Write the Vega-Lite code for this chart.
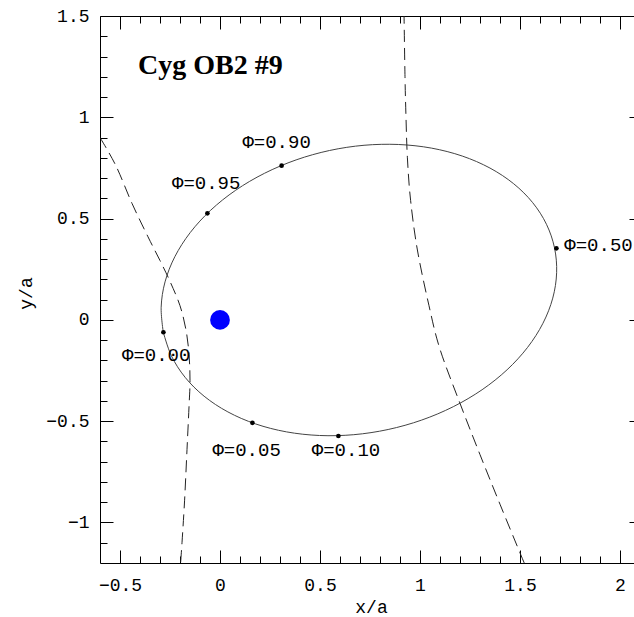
{
  "$schema": "https://vega.github.io/schema/vega-lite/v6.json",
  "width": 534,
  "height": 547,
  "autosize": {"type": "none"},
  "padding": {"left": 100, "top": 16, "right": 0, "bottom": 54},
  "background": "white",
  "config": {
    "view": {"stroke": null},
    "axis": {
      "grid": false,
      "domainColor": "#000",
      "domainWidth": 1,
      "tickColor": "#000",
      "tickWidth": 1,
      "labelFont": "Liberation Mono",
      "labelFontSize": 18,
      "labelColor": "#000",
      "titleFont": "Liberation Mono",
      "titleFontSize": 18,
      "titleFontWeight": "normal",
      "titleColor": "#000"
    }
  },
  "datasets": {
    "orbit": [
      {"i": 0, "x": -0.2837, "y": -0.0603},
      {"i": 1, "x": -0.2434, "y": -0.1766},
      {"i": 2, "x": -0.1746, "y": -0.2833},
      {"i": 3, "x": -0.0794, "y": -0.3767},
      {"i": 4, "x": 0.0393, "y": -0.4542},
      {"i": 5, "x": 0.1778, "y": -0.5135},
      {"i": 6, "x": 0.3322, "y": -0.5527},
      {"i": 7, "x": 0.4975, "y": -0.5706},
      {"i": 8, "x": 0.6688, "y": -0.5667},
      {"i": 9, "x": 0.8409, "y": -0.541},
      {"i": 10, "x": 1.0084, "y": -0.4945},
      {"i": 11, "x": 1.1665, "y": -0.4284},
      {"i": 12, "x": 1.3104, "y": -0.3448},
      {"i": 13, "x": 1.4354, "y": -0.2462},
      {"i": 14, "x": 1.5379, "y": -0.1357},
      {"i": 15, "x": 1.6148, "y": -0.0166},
      {"i": 16, "x": 1.6638, "y": 0.1075},
      {"i": 17, "x": 1.6832, "y": 0.2329},
      {"i": 18, "x": 1.6726, "y": 0.3555},
      {"i": 19, "x": 1.6324, "y": 0.4719},
      {"i": 20, "x": 1.5636, "y": 0.5785},
      {"i": 21, "x": 1.4684, "y": 0.672},
      {"i": 22, "x": 1.3497, "y": 0.7495},
      {"i": 23, "x": 1.2112, "y": 0.8088},
      {"i": 24, "x": 1.0568, "y": 0.848},
      {"i": 25, "x": 0.8915, "y": 0.8658},
      {"i": 26, "x": 0.7202, "y": 0.8619},
      {"i": 27, "x": 0.5481, "y": 0.8362},
      {"i": 28, "x": 0.3806, "y": 0.7897},
      {"i": 29, "x": 0.2225, "y": 0.7236},
      {"i": 30, "x": 0.0786, "y": 0.6401},
      {"i": 31, "x": -0.0464, "y": 0.5415},
      {"i": 32, "x": -0.1489, "y": 0.431},
      {"i": 33, "x": -0.2258, "y": 0.3119},
      {"i": 34, "x": -0.2748, "y": 0.1877},
      {"i": 35, "x": -0.2942, "y": 0.0624},
      {"i": 36, "x": -0.2837, "y": -0.0603}
    ],
    "cones": [
      {"curve": "left", "i": 0, "x": -0.6, "y": 0.9},
      {"curve": "left", "i": 1, "x": -0.52, "y": 0.76},
      {"curve": "left", "i": 2, "x": -0.44, "y": 0.575},
      {"curve": "left", "i": 3, "x": -0.36, "y": 0.41},
      {"curve": "left", "i": 4, "x": -0.3, "y": 0.293},
      {"curve": "left", "i": 5, "x": -0.25, "y": 0.19},
      {"curve": "left", "i": 6, "x": -0.2, "y": 0.07},
      {"curve": "left", "i": 7, "x": -0.17, "y": -0.05},
      {"curve": "left", "i": 8, "x": -0.155, "y": -0.17},
      {"curve": "left", "i": 9, "x": -0.15, "y": -0.3},
      {"curve": "left", "i": 10, "x": -0.155, "y": -0.43},
      {"curve": "left", "i": 11, "x": -0.165, "y": -0.64},
      {"curve": "left", "i": 12, "x": -0.177, "y": -0.89},
      {"curve": "left", "i": 13, "x": -0.19, "y": -1.1},
      {"curve": "left", "i": 14, "x": -0.197, "y": -1.2},
      {"curve": "right", "i": 0, "x": 0.92, "y": 1.52},
      {"curve": "right", "i": 1, "x": 0.925, "y": 1.2},
      {"curve": "right", "i": 2, "x": 0.93, "y": 1.0},
      {"curve": "right", "i": 3, "x": 0.937, "y": 0.8},
      {"curve": "right", "i": 4, "x": 0.953, "y": 0.59},
      {"curve": "right", "i": 5, "x": 0.987, "y": 0.345},
      {"curve": "right", "i": 6, "x": 1.045, "y": 0.07},
      {"curve": "right", "i": 7, "x": 1.1, "y": -0.145},
      {"curve": "right", "i": 8, "x": 1.2, "y": -0.412},
      {"curve": "right", "i": 9, "x": 1.3, "y": -0.665},
      {"curve": "right", "i": 10, "x": 1.4, "y": -0.91},
      {"curve": "right", "i": 11, "x": 1.5, "y": -1.15},
      {"curve": "right", "i": 12, "x": 1.53, "y": -1.22}
    ],
    "phases": [
      {"phase": "Φ=0.00", "x": -0.283, "y": -0.061, "lx": -0.319, "ly": -0.173},
      {"phase": "Φ=0.05", "x": 0.162, "y": -0.508, "lx": 0.133, "ly": -0.642},
      {"phase": "Φ=0.10", "x": 0.592, "y": -0.573, "lx": 0.63, "ly": -0.642},
      {"phase": "Φ=0.50", "x": 1.682, "y": 0.353, "lx": 1.8925, "ly": 0.37},
      {"phase": "Φ=0.90", "x": 0.308, "y": 0.761, "lx": 0.283, "ly": 0.88},
      {"phase": "Φ=0.95", "x": -0.063, "y": 0.526, "lx": -0.069, "ly": 0.674}
    ],
    "star": [{"x": 0, "y": 0}],
    "label": [{"name": "Cyg OB2 #9", "x": -0.41, "y": 1.214}]
  },
  "layer": [
    {
      "data": {"name": "orbit"},
      "mark": {"type": "line", "interpolate": "cardinal", "stroke": "#444", "strokeWidth": 1, "clip": true},
      "encoding": {
        "x": {
          "field": "x", "type": "quantitative",
          "scale": {"domain": [-0.6, 2.07], "nice": false, "zero": false},
          "axis": {
            "orient": "bottom",
            "values": [-0.5, -0.4, -0.3, -0.2, -0.1, 0, 0.1, 0.2, 0.3, 0.4, 0.5, 0.6, 0.7, 0.8, 0.9, 1, 1.1, 1.2, 1.3, 1.4, 1.5, 1.6, 1.7, 1.8, 1.9, 2],
            "tickSize": {"condition": {"test": "abs(datum.value*2 - round(datum.value*2)) < 0.001", "value": -13}, "value": -7},
            "labelExpr": "abs(datum.value*2 - round(datum.value*2)) < 0.001 ? format(datum.value, '~g') : ''",
            "labelPadding": 26,
            "labelFlush": false,
            "labelOverlap": false,
            "title": "x/a",
            "titleX": 271,
            "titleY": 44,
            "titleBaseline": "middle"
          }
        },
        "y": {
          "field": "y", "type": "quantitative",
          "scale": {"domain": [-1.2, 1.5], "nice": false, "zero": false},
          "axis": {
            "orient": "left",
            "values": [-1.1, -1, -0.9, -0.8, -0.7, -0.6, -0.5, -0.4, -0.3, -0.2, -0.1, 0, 0.1, 0.2, 0.3, 0.4, 0.5, 0.6, 0.7, 0.8, 0.9, 1, 1.1, 1.2, 1.3, 1.4, 1.5],
            "tickSize": {"condition": {"test": "abs(datum.value*2 - round(datum.value*2)) < 0.001", "value": -13}, "value": -7},
            "labelExpr": "abs(datum.value*2 - round(datum.value*2)) < 0.001 ? format(datum.value, '~g') : ''",
            "labelPadding": 24,
            "labelFlush": false,
            "labelOverlap": false,
            "title": "y/a",
            "titleX": -74,
            "titleY": 277,
            "titleBaseline": "middle"
          }
        },
        "order": {"field": "i"}
      }
    },
    {
      "data": {"name": "cones"},
      "mark": {"type": "line", "interpolate": "cardinal", "stroke": "#222", "strokeWidth": 1, "strokeDash": [12, 6], "clip": true},
      "encoding": {
        "x": {"field": "x", "type": "quantitative", "axis": null},
        "y": {"field": "y", "type": "quantitative", "axis": null},
        "detail": {"field": "curve"},
        "order": {"field": "i"}
      }
    },
    {
      "data": {"name": "star"},
      "mark": {"type": "point", "filled": true, "size": 390, "color": "#0000ff", "opacity": 1},
      "encoding": {
        "x": {"field": "x", "type": "quantitative", "axis": null},
        "y": {"field": "y", "type": "quantitative", "axis": null}
      }
    },
    {
      "data": {"name": "phases"},
      "mark": {"type": "point", "filled": true, "size": 22, "color": "#000", "opacity": 1},
      "encoding": {
        "x": {
          "field": "x", "type": "quantitative",
          "axis": {
            "orient": "top",
            "values": [-0.5, -0.4, -0.3, -0.2, -0.1, 0, 0.1, 0.2, 0.3, 0.4, 0.5, 0.6, 0.7, 0.8, 0.9, 1, 1.1, 1.2, 1.3, 1.4, 1.5, 1.6, 1.7, 1.8, 1.9, 2],
            "tickSize": {"condition": {"test": "abs(datum.value*2 - round(datum.value*2)) < 0.001", "value": -13}, "value": -7},
            "labels": false,
            "title": null
          }
        },
        "y": {
          "field": "y", "type": "quantitative",
          "axis": {
            "orient": "right",
            "values": [-1, -0.5, 0, 0.5, 1],
            "tickSize": -5,
            "labels": false,
            "domain": false,
            "title": null
          }
        }
      }
    },
    {
      "data": {"name": "phases"},
      "mark": {"type": "text", "font": "Liberation Mono", "fontSize": 19, "color": "#000", "align": "center", "baseline": "middle"},
      "encoding": {
        "x": {"field": "lx", "type": "quantitative", "axis": null},
        "y": {"field": "ly", "type": "quantitative", "axis": null},
        "text": {"field": "phase"}
      }
    },
    {
      "data": {"name": "label"},
      "mark": {"type": "text", "font": "Liberation Serif", "fontSize": 28, "fontWeight": "bold", "color": "#000", "align": "left", "baseline": "alphabetic"},
      "encoding": {
        "x": {"field": "x", "type": "quantitative", "axis": null},
        "y": {"field": "y", "type": "quantitative", "axis": null},
        "text": {"field": "name"}
      }
    }
  ],
  "resolve": {"axis": {"x": "independent", "y": "independent"}}
}
